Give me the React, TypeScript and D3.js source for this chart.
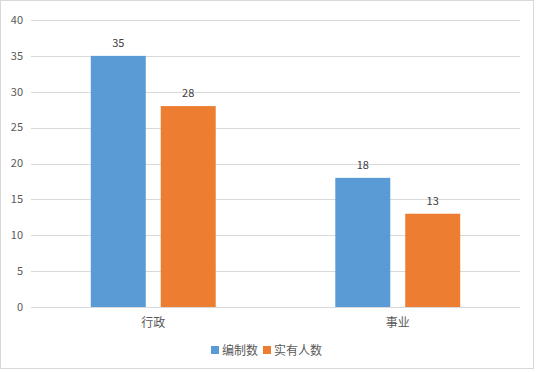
import React, { useEffect, useRef } from 'react';
import * as d3 from 'd3';

const categories = ['行政', '事业'];
const seriesNames = ['编制数', '实有人数'];
const bianzhi = [35, 18];
const shiyou = [28, 13];
const yTicks = [0, 5, 10, 15, 20, 25, 30, 35, 40];

const colors = ['#5B9BD5', '#ED7D31'];
const W = 536;
const H = 372;
const font = '"Noto Sans CJK SC", "Microsoft YaHei", sans-serif';

const App = () => {
  const svgRef = useRef<SVGSVGElement | null>(null);

  useEffect(() => {
    const svg = d3.select(svgRef.current);
    svg.selectAll('*').remove();

    const margin = { left: 31, right: 16, top: 20, bottom: 65 };

    // chart frame
    svg.append('rect')
      .attr('x', 0.5).attr('y', 0.5)
      .attr('width', 533).attr('height', 368)
      .attr('fill', 'white')
      .attr('stroke', '#D9D9D9');

    const x0 = d3.scaleBand<string>()
      .domain(categories)
      .range([margin.left, W - margin.right])
      .paddingInner(0.489)
      .paddingOuter(0.2445);

    const x1 = d3.scaleBand<string>()
      .domain(seriesNames)
      .range([0, x0.bandwidth()])
      .paddingInner(0.214);

    const y = d3.scaleLinear().domain([0, 40]).range([H - margin.bottom, margin.top]);

    // gridlines
    svg.append('g')
      .selectAll('line')
      .data(yTicks)
      .enter()
      .append('line')
      .attr('x1', margin.left)
      .attr('x2', W - margin.right)
      .attr('y1', d => Math.round(y(d)) + 0.5)
      .attr('y2', d => Math.round(y(d)) + 0.5)
      .attr('stroke', '#D9D9D9')
      .attr('stroke-width', 1);

    svg.append('g')
      .selectAll('text')
      .data(yTicks)
      .enter()
      .append('text')
      .attr('x', 23)
      .attr('y', d => y(d))
      .attr('dy', '0.35em')
      .attr('text-anchor', 'end')
      .attr('fill', '#595959')
      .style('font-size', '11px')
      .style('font-family', font)
      .text(d => d);

    const rows = categories.map((c, i) => ({ cat: c, vals: [bianzhi[i], shiyou[i]] }));

    const groups = svg.append('g')
      .selectAll('g')
      .data(rows)
      .enter()
      .append('g')
      .attr('transform', d => `translate(${x0(d.cat)},0)`);

    const bars = groups.selectAll('g')
      .data(d => d.vals.map((v, j) => ({ name: seriesNames[j], v, j })))
      .enter()
      .append('g');

    bars.append('rect')
      .attr('x', d => x1(d.name)!)
      .attr('y', d => y(d.v))
      .attr('width', x1.bandwidth())
      .attr('height', d => y(0) - y(d.v))
      .attr('fill', d => colors[d.j]);

    bars.append('text')
      .attr('x', d => x1(d.name)! + x1.bandwidth() / 2)
      .attr('y', d => y(d.v) - 9)
      .attr('text-anchor', 'middle')
      .attr('fill', '#404040')
      .style('font-size', '11px')
      .style('font-family', font)
      .text(d => d.v);

    // category labels
    svg.append('g')
      .selectAll('text')
      .data(categories)
      .enter()
      .append('text')
      .attr('x', d => x0(d)! + x0.bandwidth() / 2)
      .attr('y', y(0) + 20)
      .attr('text-anchor', 'middle')
      .attr('fill', '#595959')
      .style('font-size', '12px')
      .style('font-family', font)
      .text(d => d);

    // legend
    const legendItems = [
      { name: seriesNames[0], x: 211 },
      { name: seriesNames[1], x: 263 },
    ];
    const lg = svg.append('g')
      .selectAll('g')
      .data(legendItems)
      .enter()
      .append('g')
      .attr('transform', d => `translate(${d.x},346)`);
    lg.append('rect')
      .attr('width', 8).attr('height', 8)
      .attr('fill', (d, i) => colors[i]);
    lg.append('text')
      .attr('x', 11)
      .attr('y', 9)
      .attr('fill', '#595959')
      .style('font-size', '12px')
      .style('font-family', font)
      .text(d => d.name);
  }, []);

  return (
    <div style={{ position: 'fixed', left: 0, top: 0, width: W, height: H, background: 'white' }}>
      <svg ref={svgRef} width={W} height={H} />
    </div>
  );
};

export default App;
